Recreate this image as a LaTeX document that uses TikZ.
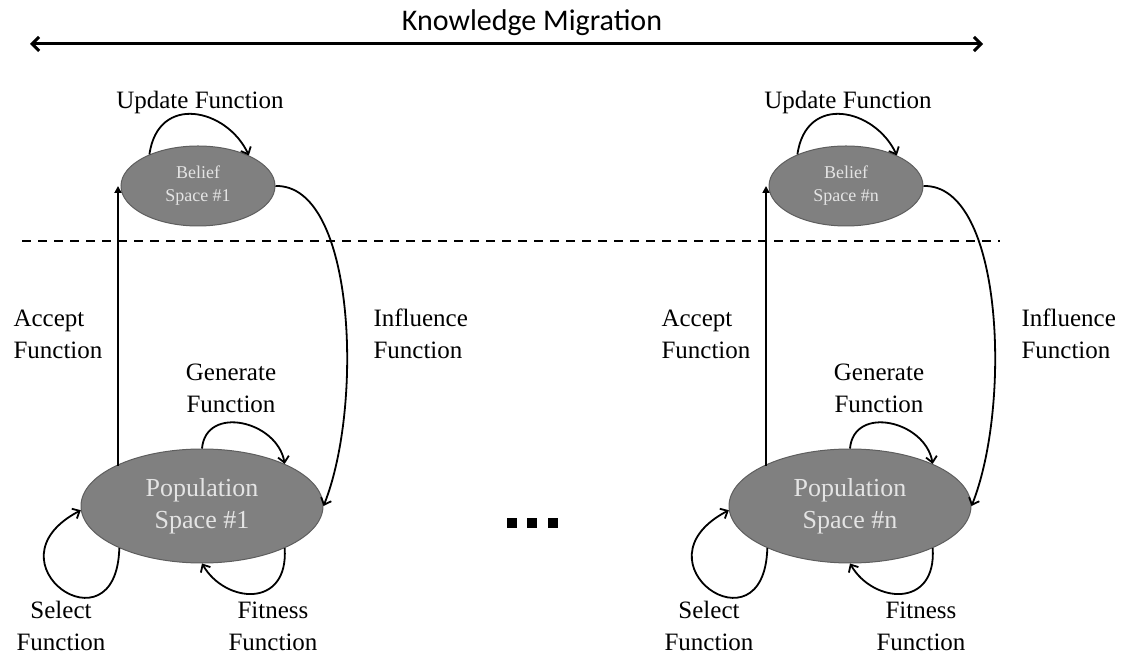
\documentclass[tikz,border=0pt]{standalone}
\usepackage{fontspec}
\setmainfont{Liberation Serif}
\newfontfamily\headfont{Carlito}
\usetikzlibrary{arrows.meta,shapes.geometric}

\definecolor{spacefill}{HTML}{808080}
\definecolor{spaceedge}{HTML}{5E5E5E}
\definecolor{spacetext}{HTML}{E4E4E4}

\tikzset{
  space/.style={ellipse, draw=spaceedge, line width=1pt, fill=spacefill,
    text=spacetext, inner sep=0pt, align=center},
  belief/.style={space, minimum width=154pt, minimum height=80pt,
    font=\fontsize{18}{23}\selectfont},
  popspace/.style={space, minimum width=242pt, minimum height=114pt,
    font=\fontsize{26}{32}\selectfont},
  lbl/.style={align=center, font=\fontsize{25}{32}\selectfont},
  lbll/.style={lbl, align=left, anchor=west},
  flow/.style={line width=1.8pt, -{Straight Barb[length=6pt,width=11pt]}},
  acceptline/.style={draw, line width=2.2pt, -{Triangle[length=7pt,width=7pt]}},
  migrate/.style={line width=3pt, {Straight Barb[length=7pt,width=14pt]}-{Straight Barb[length=7pt,width=14pt]}},
  dot/.style={fill=black, minimum size=10pt, inner sep=0pt}
}

\begin{document}
\begin{tikzpicture}[x=1pt,y=1pt]
\useasboundingbox (0,0) rectangle (1129,658);

% knowledge migration between the cultural spaces
\node[font=\headfont\fontsize{30}{32}\selectfont] (km) at (532,635) {Knowledge Migration};
\coordinate (kl) at (30,614);
\coordinate (kr) at (983,614);
\draw[migrate] (kl) -- (kr);

% belief / population boundary
\coordinate (dl) at (22,417);
\coordinate (dr) at (1000,417);
\draw[dashed, line width=1.8pt, dash pattern=on 9pt off 7pt] (dl) -- (dr);

% one cultural algorithm per island
\foreach \s/\n/\dx in {1/1/0, 2/n/648} {
  \begin{scope}[xshift=\dx pt]
    \node[belief] (b\s) at (198,472) {Belief\\Space \#\n};
    \node[popspace] (p\s) at (202,152) {Population\\Space \#\n};

    \node[lbl] (upd\s) at (200,556) {Update Function};
    \node[lbll] (acc\s) at (10,324) {Accept\\Function};
    \node[lbll] (inf\s) at (370,324) {Influence\\Function};
    \node[lbl] (gen\s) at (231,270) {Generate\\Function};
    \node[lbl] (sel\s) at (61,32) {Select\\Function};
    \node[lbl] (fit\s) at (273,32) {Fitness\\Function};

    % update
    \draw[flow] (b\s.147) .. controls +(82:62) and +(115:52) .. (b\s.31);
    % accept
    \path[acceptline] ([xshift=-2.5pt]b\s.west |- p\s.155) -- ([xshift=-2.5pt]b\s.west);
    % influence
    \draw[flow] (b\s.east) .. controls +(80,2) and +(40,100) .. (p\s.east);
    % generate
    \draw[flow] (p\s.90) .. controls +(85:44) and +(100:44) .. (p\s.27);
    % select
    \draw[flow] (p\s.207) .. controls +(-3,-108) and +(-99,-52) .. (p\s.182);
    % fitness
    \draw[flow] (p\s.333) .. controls +(4,-61) and +(23,-40) .. (p\s.270);
  \end{scope}
}

% further islands
\node[dot] (d1) at (512,135) {};
\node[dot] (d2) at (532,135) {};
\node[dot] (d3) at (553,135) {};
\end{tikzpicture}
\end{document}
